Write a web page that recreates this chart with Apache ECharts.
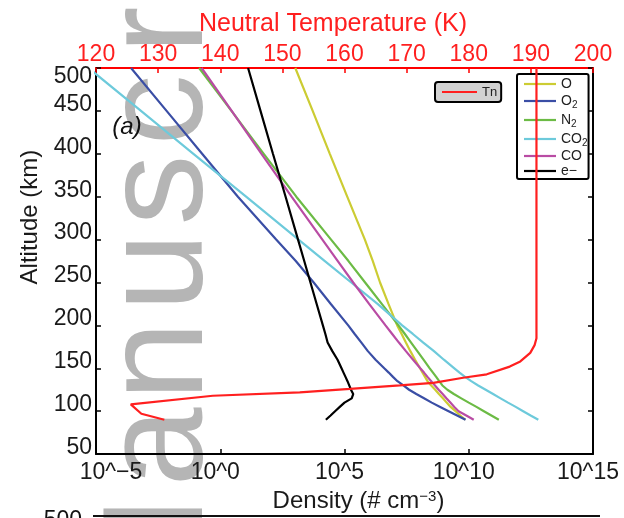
<!DOCTYPE html>
<html>
<head>
<meta charset="utf-8">
<script src="https://cdn.jsdelivr.net/npm/echarts@6/dist/echarts.min.js"></script>
<style>html,body{margin:0;padding:0;background:#fff}#c{width:624px;height:518px}</style>
</head>
<body>
<div id="c"></div>
<script>
// ---- data (altitude in km, density as log10 of # cm^-3, temperature in K) ----
const altDensity = [90, 95, 100, 105, 110, 115, 120, 125, 130, 135, 140, 145, 150, 160, 170, 180, 190, 200, 225, 250, 275, 300, 350, 400, 450, 500];
const logO   = [9.86, 9.66, 9.47, 9.27, 9.11, 8.96, 8.80, 8.65, 8.49, 8.34, 8.24, 8.14, 8.04, 7.84, 7.65, 7.47, 7.30, 7.12, 6.77, 6.43, 6.14, 5.82, 5.11, 4.41, 3.72, 3.02];
const logO2  = [9.87, 9.53, 9.19, 8.85, 8.51, 8.20, 7.89, 7.60, 7.37, 7.13, 6.95, 6.78, 6.60, 6.25, 5.94, 5.68, 5.41, 5.15, 4.45, 3.76, 3.04, 2.25, 0.71, -0.73, -2.16, -3.59];
const logN2  = [11.21, 10.91, 10.61, 10.31, 10.00, 9.70, 9.40, 9.14, 8.94, 8.81, 8.69, 8.56, 8.43, 8.18, 7.93, 7.68, 7.43, 7.17, 6.50, 5.83, 5.16, 4.46, 3.06, 1.75, 0.45, -0.85];
const logCO2 = [12.80, 12.49, 12.19, 11.89, 11.58, 11.28, 10.98, 10.68, 10.38, 10.10, 9.85, 9.63, 9.42, 9.00, 8.60, 8.17, 7.75, 7.32, 6.33, 5.27, 4.21, 3.15, 1.04, -1.08, -3.19, -5.30];
const logCO  = [10.20, 9.90, 9.59, 9.42, 9.26, 9.10, 8.95, 8.79, 8.64, 8.49, 8.34, 8.20, 8.05, 7.76, 7.47, 7.19, 6.92, 6.65, 5.99, 5.35, 4.73, 4.11, 2.87, 1.66, 0.46, -0.75];
const logE   = [4.25, 4.44, 4.62, 4.81, 5.00, 5.29, 5.35, 5.26, 5.19, 5.12, 5.04, 4.96, 4.88, 4.72, 4.51, 4.32, 4.23, 4.13, 3.88, 3.63, 3.38, 3.13, 2.63, 2.12, 1.62, 1.12];

const altTemp = [90, 97, 108, 118, 122, 126, 130, 133, 139, 143, 152, 158, 168, 177, 185, 200, 300, 400, 500];
const tempTn  = [131.0, 127.3, 125.6, 138.8, 152.8, 160.9, 168.9, 174.3, 179.1, 182.9, 186.6, 188.3, 189.9, 190.6, 190.9, 190.9, 190.9, 190.9, 190.9];

const densityNames = ['O', 'O2', 'N2', 'CO2', 'CO', 'e\u2212'];
const densityTickLabels = ['10^\u22125', '10^0', '10^5', '10^10', '10^15'];

// ---- styling ----
const FONT = "'Liberation Sans', Arial, Helvetica, sans-serif";
const RED = '#ff1f1f';
const INK = '#1a1a1a';
const densityColors = ['#cccc33', '#3a4ea5', '#6cbb45', '#6dcadb', '#b94ca4', '#000000'];
const densityValues = [logO, logO2, logN2, logCO2, logCO, logE];

const series = densityNames.map((name, i) => ({
  type: 'line', name: name, xAxisIndex: 0, yAxisIndex: 0,
  data: altDensity.map((a, k) => [densityValues[i][k], a]),
  symbol: 'none', clip: true, z: 3,
  lineStyle: { color: densityColors[i], width: 2.2 },
  itemStyle: { color: densityColors[i] }
}));
series.push({
  type: 'line', name: 'Tn', xAxisIndex: 1, yAxisIndex: 0,
  data: altTemp.map((a, k) => [tempTn[k], a]),
  symbol: 'none', clip: true, z: 4,
  lineStyle: { color: RED, width: 2.2 },
  itemStyle: { color: RED }
});

function axisTick(color) { return { show: true, inside: true, length: 5, lineStyle: { color: color, width: 1.5 } }; }
function axisLine(color) { return { show: true, onZero: false, lineStyle: { color: color, width: 2 } }; }

const wmColor = '#b5b5b5';
const wmLetters = [['M', 556], ['a', 447], ['n', 361], ['u', 272], ['s', 190], ['c', 110], ['r', 30]];
const graphics = wmLetters.map(([ch, y]) => ({
  type: 'text', x: 163, y: y, rotation: Math.PI / 2, z: 0, silent: true,
  style: { text: ch, fontSize: 142, fontFamily: FONT, fill: wmColor, align: 'center', verticalAlign: 'middle' }
}));
graphics.push({
  type: 'text', x: 127, y: 127, z: 5,
  style: { text: '(a)', fontSize: 24, fontStyle: 'italic', fontFamily: FONT, fill: '#111', align: 'center', verticalAlign: 'middle' }
});
graphics.push({
  type: 'line', z: 5, shape: { x1: 93, y1: 516, x2: 600, y2: 516 }, style: { stroke: '#111', lineWidth: 2 }
});
graphics.push({
  type: 'text', x: 82, y: 521, z: 5,
  style: { text: '500', fontSize: 23, fontFamily: FONT, fill: '#111', align: 'right', verticalAlign: 'middle' }
});

const chart = echarts.init(document.getElementById('c'), null, { renderer: 'canvas' });
chart.setOption({
  animation: false,
  backgroundColor: '#ffffff',
  textStyle: { fontFamily: FONT },
  grid: { left: 96, right: 31, top: 68, bottom: 56.5, containLabel: false },
  xAxis: [
    {
      type: 'value', position: 'bottom', min: -5, max: 15, interval: 5,
      axisLine: axisLine('#000'), axisTick: axisTick('#000'), splitLine: { show: false },
      axisLabel: {
        fontSize: 23, fontFamily: FONT, color: INK, margin: 7,
        formatter: (v) => {
          const i = Math.round((v + 5) / 5);
          return (i === 0 ? '{first|' : '{n|') + densityTickLabels[i] + '}';
        },
        rich: {
          first: { fontSize: 23, fontFamily: FONT, color: INK, padding: [0, 0, 0, 30] },
          n: { fontSize: 23, fontFamily: FONT, color: INK, padding: [0, 10, 0, 0] }
        }
      },
      name: 'Density (# cm{sup|\u22123})', nameLocation: 'middle', nameGap: 27,
      nameTextStyle: {
        fontSize: 24, fontFamily: FONT, color: INK, padding: [0, 0, 0, 28],
        rich: { sup: { fontSize: 15, lineHeight: 15, fontFamily: FONT, color: INK, verticalAlign: 'top' } }
      }
    },
    {
      type: 'value', position: 'top', min: 120, max: 200, interval: 10,
      axisLine: axisLine('#ff0000'), axisTick: axisTick('#ff0000'), splitLine: { show: false },
      axisLabel: { fontSize: 23, fontFamily: FONT, color: RED, margin: 2 },
      name: 'Neutral Temperature (K)', nameLocation: 'middle', nameGap: 31,
      nameTextStyle: { fontSize: 25, fontFamily: FONT, color: RED, padding: [0, 23, 0, 0] }
    }
  ],
  yAxis: [
    {
      type: 'value', position: 'left', min: 50, max: 500, interval: 50,
      axisLine: axisLine('#000'), axisTick: axisTick('#000'), splitLine: { show: false },
      axisLabel: {
        fontSize: 23, fontFamily: FONT, color: INK, margin: 4,
        formatter: v => (v === 500 ? '{top|' : '{v|') + v + '}',
        rich: {
          v: { fontSize: 23, fontFamily: FONT, color: INK, padding: [0, 0, 13, 0] },
          top: { fontSize: 23, fontFamily: FONT, color: INK, padding: [17, 0, 0, 0] }
        }
      },
      name: 'Altitude (km)', nameLocation: 'middle', nameGap: 47,
      nameTextStyle: { fontSize: 24, fontFamily: FONT, color: INK, padding: [0, 0, 0, 88] }
    },
    {
      type: 'value', position: 'right', min: 50, max: 500, interval: 50,
      axisLine: axisLine('#000'), axisTick: axisTick('#000'), splitLine: { show: false },
      axisLabel: { show: false }
    }
  ],
  legend: [
    {
      data: ['Tn'], left: 435, top: 82, orient: 'vertical', z: 1, selectedMode: false,
      backgroundColor: '#d2d2d2', borderColor: '#000', borderWidth: 2, borderRadius: 3,
      padding: [3, 4, 3, 7], icon: 'rect', itemWidth: 35, itemHeight: 2.2, itemGap: 0,
      textStyle: { fontSize: 13, lineHeight: 14, fontFamily: FONT, color: '#222' }
    },
    {
      data: densityNames, left: 517, top: 74, orient: 'vertical', z: 1, selectedMode: false,
      backgroundColor: 'transparent', borderColor: '#000', borderWidth: 2, borderRadius: 2,
      padding: [3, 1, 1, 7], icon: 'rect', itemWidth: 32, itemHeight: 2.2, itemGap: 1,
      formatter: n => n.replace(/(\d)/, '{sub|$1}'),
      textStyle: {
        fontSize: 14, lineHeight: 14, fontFamily: FONT, color: '#222',
        rich: { sub: { fontSize: 10, lineHeight: 10, padding: [8, 0, 0, 0], fontFamily: FONT, color: '#222' } }
      }
    }
  ],
  graphic: graphics,
  series: series
});
</script>
</body>
</html>
